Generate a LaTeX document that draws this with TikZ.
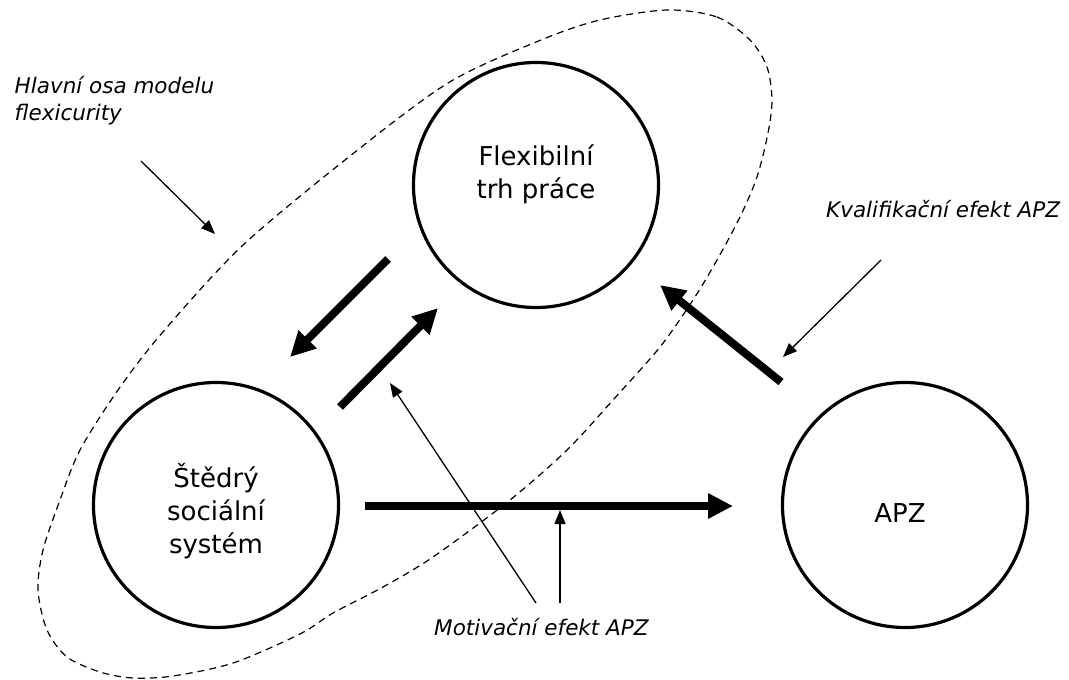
\documentclass[tikz,border=0pt]{standalone}
\usepackage{fontspec}
\setmainfont{DejaVu Sans}
\usetikzlibrary{arrows.meta}
\begin{document}
\begin{tikzpicture}[x=1pt,y=-1pt,
  circ/.style={draw, circle, line width=3.2pt, minimum size=245pt, inner sep=0pt},
  ctext/.style={align=center, font=\fontsize{26}{33}\selectfont, inner sep=0pt},
  note/.style={font=\fontsize{21.5}{27}\selectfont\itshape, inner sep=0pt},
  bigarrow/.style={line width=8pt, -{Triangle[length=25pt,width=24pt]}},
  thinarrow/.style={line width=1.3pt, -{Triangle[length=14pt,width=11pt]}},
  axisline/.style={line width=1.2pt, dash pattern=on 7pt off 5pt}]
\useasboundingbox (0,0) rectangle (1069,680);
% dashed main axis
\draw[axisline] plot[smooth cycle, tension=0.5] coordinates {(667,10) (717,17) (750,40) (767,67) (772,100) (768,133) (757,177) (740,217) (717,260) (693,300) (660,347) (613,400) (567,450) (510,500) (433,557) (383,587) (333,613) (300,634) (233,663) (173,676) (133,678) (100,672) (67,657) (47,630) (38,590) (43,550) (60,500) (80,450) (118,390) (162,333) (241,247) (345,160) (448,83) (541,40) (600,20)};
% circles
\node[circ] (flex) at (536,185) {};
\node[circ] (sted) at (216,505) {};
\node[circ] (apz) at (905,505) {};
\node[ctext] (flext) at (536,174) {Flexibilní\\trh práce};
\node[ctext] (stedt) at (216,511) {Štědrý\\sociální\\systém};
\node[ctext, anchor=base] (apzt) at (900,522) {APZ};
% labels
\node[note, align=left, anchor=north west] (hlavni) at (14.5,76) {Hlavní osa modelu\\flexicurity};
\node[note, anchor=base west] (kval) at (826,217) {Kvalifikační efekt APZ};
\node[note, anchor=base west] (motiv) at (434,635) {Motivační efekt APZ};
% arrow end points
\coordinate (a1s) at (388,259); \coordinate (a1e) at (290,357);
\coordinate (a2s) at (340,407); \coordinate (a2e) at (438,308);
\coordinate (a3s) at (781,382); \coordinate (a3e) at (660,285);
\coordinate (a4s) at (365,506); \coordinate (a4e) at (733,506);
\coordinate (hs) at (141,161); \coordinate (he) at (215,234);
\coordinate (ks) at (881,260); \coordinate (ke) at (783,357);
\coordinate (m1s) at (536,603); \coordinate (m1e) at (390,383);
\coordinate (m2s) at (560,603); \coordinate (m2e) at (560,510);
% thick arrows
\draw[bigarrow] (a1s) -- (a1e);
\draw[bigarrow] (a2s) -- (a2e);
\draw[bigarrow] (a3s) -- (a3e);
\draw[bigarrow] (a4s) -- (a4e);
% thin arrows
\draw[thinarrow] (hs) -- (he);
\draw[thinarrow] (ks) -- (ke);
\draw[thinarrow] (m1s) -- (m1e);
\draw[thinarrow] (m2s) -- (m2e);
\end{tikzpicture}
\end{document}
